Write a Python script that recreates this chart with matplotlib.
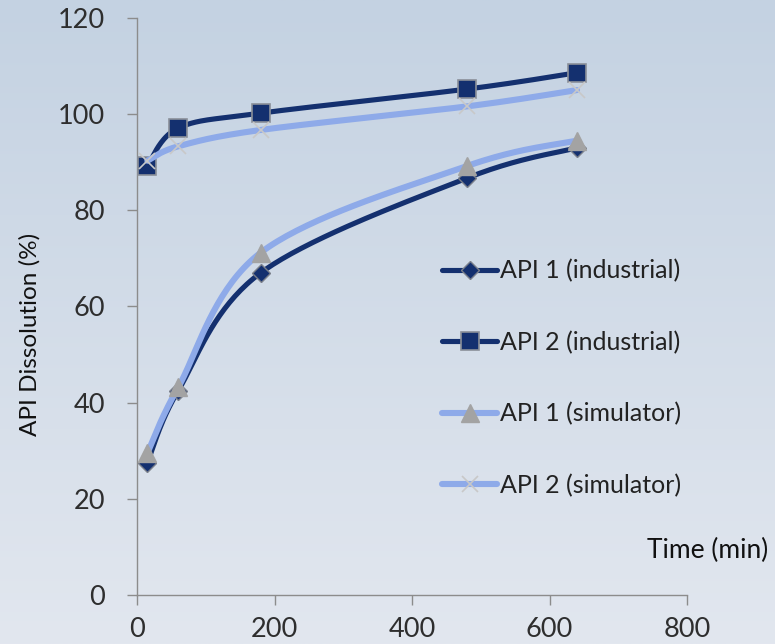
import numpy as np
import matplotlib
matplotlib.use("Agg")
import matplotlib.pyplot as plt
from matplotlib.lines import Line2D

plt.rcParams['font.family'] = ['Lato', 'DejaVu Sans']

time_min = [15, 60, 180, 480, 640]
api1_industrial = [27.5, 42.5, 67.0, 86.7, 93.0]
api2_industrial = [89.3, 97.1, 100.2, 105.2, 108.6]
api1_simulator = [29.5, 43.2, 71.2, 89.2, 94.5]
api2_simulator = [90.3, 93.3, 96.7, 101.6, 105.0]
labels = ["API 1 (industrial)", "API 2 (industrial)", "API 1 (simulator)", "API 2 (simulator)"]
x_ticks = [0, 200, 400, 600, 800]
y_ticks = [0, 20, 40, 60, 80, 100, 120]

DARK = '#14306f'
LIGHT = '#8eaae9'


def smooth(xs, ys, n=40):
    P = np.column_stack([xs, ys]).astype(float)
    Pe = np.vstack([P[0], P, P[-1]])
    out = []
    for i in range(len(P) - 1):
        p0, p1, p2, p3 = Pe[i], Pe[i + 1], Pe[i + 2], Pe[i + 3]
        c1 = p1 + (p2 - p0) / 6.0
        c2 = p2 - (p3 - p1) / 6.0
        t = np.linspace(0, 1, n)[:, None]
        seg = ((1 - t) ** 3) * p1 + 3 * ((1 - t) ** 2) * t * c1 + 3 * (1 - t) * t ** 2 * c2 + t ** 3 * p2
        out.append(seg if i == 0 else seg[1:])
    s = np.vstack(out)
    return s[:, 0], s[:, 1]


fig = plt.figure(figsize=(7.75, 6.44), dpi=100)

# gradient background
bg = fig.add_axes([0, 0, 1, 1], zorder=-10)
top = np.array([0xc4, 0xd2, 0xe2]) / 255.0
bot = np.array([0xe2, 0xe7, 0xef]) / 255.0
tt = np.linspace(0, 1, 256)[:, None]
grad = top * (1 - tt) + bot * tt
img = np.repeat(grad[:, None, :], 2, axis=1)
bg.imshow(img, aspect='auto', extent=[0, 1, 0, 1], origin='upper')
bg.set_axis_off()

ax = fig.add_axes([0.1768, 0.0761, 0.7097, 0.8961])
ax.patch.set_alpha(0)

series = [
    (api1_industrial, DARK, 3.7, dict(marker='D', markersize=9.5, markerfacecolor=DARK, markeredgecolor='#7a7f8a', markeredgewidth=1.0)),
    (api2_industrial, DARK, 3.7, dict(marker='s', markersize=12.5, markerfacecolor=DARK, markeredgecolor='#8a8f99', markeredgewidth=1.2)),
    (api1_simulator, LIGHT, 4.4, dict(marker='^', markersize=13, markerfacecolor='#a3a3a3', markeredgecolor='#a3a3a3', markeredgewidth=1.0)),
    (api2_simulator, LIGHT, 4.4, dict(marker='x', markersize=12, markerfacecolor='#c8c8c8', markeredgecolor='#c8c8c8', markeredgewidth=1.2)),
]

handles = []
for i, (vals, col, lw, mk) in enumerate(series):
    sx, sy = smooth(time_min, vals)
    ax.plot(sx, sy, color=col, lw=lw, solid_capstyle='round', zorder=2 + 2 * i)
    ax.plot(time_min, vals, linestyle='none', zorder=3 + 2 * i, clip_on=False, **mk)
    handles.append(Line2D([], [], color=col, lw=lw, solid_capstyle='round', **mk))

ax.set_xlim(0, 800)
ax.set_ylim(0, 120)
ax.set_xticks(x_ticks)
ax.set_yticks(y_ticks)
for s in ['top', 'right']:
    ax.spines[s].set_visible(False)
for s in ['left', 'bottom']:
    ax.spines[s].set_color('#8c8c8c')
    ax.spines[s].set_linewidth(1.0)
ax.tick_params(axis='both', direction='out', length=7, width=1.0, color='#8c8c8c',
               labelsize=19.5, labelcolor='#2e2e2e')
ax.tick_params(axis='y', pad=16)
ax.tick_params(axis='x', pad=9)

fig.text(0.039, 0.48, "API Dissolution (%)", rotation=90, fontsize=17.5, color='#111111',
         ha='center', va='center')
fig.text(0.991, 0.145, "Time (min)", fontsize=19, color='#111111', ha='right', va='center')

leg = ax.legend(handles, labels, loc='upper left', bbox_to_anchor=(0.558, 0.613, 0, 0),
                bbox_transform=fig.transFigure, frameon=False, fontsize=18,
                handlelength=2.2, handletextpad=0.1, labelspacing=1.93, borderaxespad=0)
for t in leg.get_texts():
    t.set_color('#222222')

fig.savefig("out.png", dpi=100)
